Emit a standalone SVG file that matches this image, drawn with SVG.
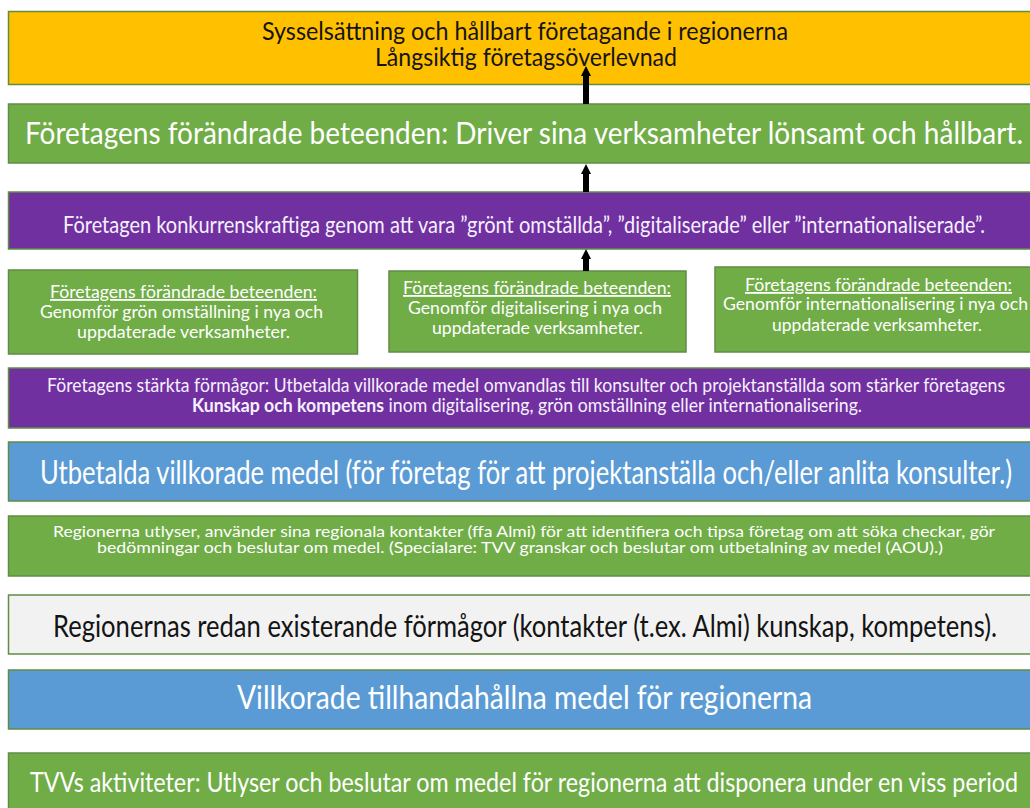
<svg xmlns="http://www.w3.org/2000/svg" width="1030" height="808" viewBox="0 0 1030 808">
<style>
.box{stroke:#628c46;stroke-width:1.5}
.y{fill:#FFC000}.g{fill:#70AD47}.p{fill:#7030A0}.b{fill:#5B9BD5}.gr{fill:#F2F2F2}
text{font-family:Lato,"Open Sans","Liberation Sans",sans-serif}
.w{fill:#ffffff}.pw{fill:#f6f0ff}.k{fill:#141414}
.conn{stroke:#000000;stroke-width:6;fill:none}
</style>
<defs>
<marker id="ah" viewBox="0 0 10 10" markerUnits="userSpaceOnUse" markerWidth="10" markerHeight="15" refX="1" refY="5" orient="auto">
<path d="M0,0 L10,5 L0,10 Z" fill="#000000"/>
</marker>
</defs>
<rect width="1030" height="808" fill="#ffffff"/>

<g id="n-sysselsattning">
<rect class="box y" x="8.5" y="11.5" width="1035" height="73"/>
<text class="k" x="262" y="40" font-size="25" textLength="526" lengthAdjust="spacingAndGlyphs">Sysselsättning och hållbart företagande i regionerna</text>
<text class="k" x="375" y="66" font-size="25" textLength="302" lengthAdjust="spacingAndGlyphs">Långsiktig företagsöverlevnad</text>
</g>

<g id="n-beteenden">
<rect class="box g" x="8.5" y="104" width="1035" height="59"/>
<text class="w" x="25" y="144" font-size="31" textLength="998" lengthAdjust="spacingAndGlyphs">Företagens förändrade beteenden: Driver sina verksamheter lönsamt och hållbart.</text>
</g>

<g id="n-konkurrenskraftiga">
<rect class="box p" x="8.5" y="192" width="1035" height="57"/>
<text class="pw" x="63" y="233" font-size="23.5" textLength="922" lengthAdjust="spacingAndGlyphs">Företagen konkurrenskraftiga  genom att vara ”grönt omställda”, ”digitaliserade” eller ”internationaliserade”.</text>
</g>

<g id="n-gron">
<rect class="box g" x="8.5" y="270" width="349" height="84"/>
<text class="w" x="50" y="298" font-size="18" textLength="267" lengthAdjust="spacingAndGlyphs" text-decoration="underline">Företagens förändrade beteenden:</text>
<text class="w" x="40" y="318" font-size="18" textLength="283" lengthAdjust="spacingAndGlyphs">Genomför grön omställning i nya och</text>
<text class="w" x="77" y="338" font-size="18" textLength="213" lengthAdjust="spacingAndGlyphs">uppdaterade verksamheter.</text>
</g>

<g id="n-digital">
<rect class="box g" x="389" y="271" width="297" height="81"/>
<text class="w" x="403" y="294" font-size="18" textLength="268" lengthAdjust="spacingAndGlyphs" text-decoration="underline">Företagens förändrade beteenden:</text>
<text class="w" x="408" y="314" font-size="18" textLength="254" lengthAdjust="spacingAndGlyphs">Genomför digitalisering i nya och</text>
<text class="w" x="432" y="334" font-size="18" textLength="211" lengthAdjust="spacingAndGlyphs">uppdaterade verksamheter.</text>
</g>

<g id="n-internationell">
<rect class="box g" x="715" y="267" width="330" height="85"/>
<text class="w" x="745" y="291" font-size="18" textLength="267" lengthAdjust="spacingAndGlyphs" text-decoration="underline">Företagens förändrade beteenden:</text>
<text class="w" x="723" y="310" font-size="18" textLength="305" lengthAdjust="spacingAndGlyphs">Genomför internationalisering i nya och</text>
<text class="w" x="772" y="331" font-size="18" textLength="210" lengthAdjust="spacingAndGlyphs">uppdaterade verksamheter.</text>
</g>

<g id="n-formagor">
<rect class="box p" x="8.5" y="368" width="1035" height="60"/>
<text class="pw" x="47" y="392" font-size="19" textLength="958" lengthAdjust="spacingAndGlyphs">Företagens  stärkta förmågor: Utbetalda villkorade medel omvandlas till konsulter och projektanställda som stärker företagens</text>
<text class="pw" x="192" y="412" font-size="19" textLength="670" lengthAdjust="spacingAndGlyphs"><tspan font-weight="bold">Kunskap och kompetens</tspan> inom digitalisering, grön omställning eller internationalisering.</text>
</g>

<g id="n-utbetalda">
<rect class="box b" x="8.5" y="442" width="1035" height="59"/>
<text class="w" x="40" y="484" font-size="33" textLength="972" lengthAdjust="spacingAndGlyphs">Utbetalda villkorade  medel  (för företag för att projektanställa  och/eller anlita konsulter.)</text>
</g>

<g id="n-regionerna-utlyser">
<rect class="box g" x="8.5" y="516" width="1035" height="60"/>
<text class="w" x="53" y="537" font-size="16" textLength="942" lengthAdjust="spacingAndGlyphs">Regionerna utlyser, använder sina regionala kontakter (ffa Almi) för att identifiera och tipsa företag om att söka checkar,  gör</text>
<text class="w" x="97" y="553" font-size="16" textLength="846" lengthAdjust="spacingAndGlyphs">bedömningar och beslutar om medel. (Specialare: TVV granskar och beslutar om utbetalning av medel (AOU).)</text>
</g>

<g id="n-existerande">
<rect class="box gr" x="8.5" y="595" width="1035" height="59"/>
<text class="k" x="53" y="637" font-size="31" textLength="944" lengthAdjust="spacingAndGlyphs">Regionernas redan existerande förmågor (kontakter (t.ex. Almi) kunskap, kompetens).</text>
</g>

<g id="n-villkorade">
<rect class="box b" x="8.5" y="670" width="1035" height="59"/>
<text class="w" x="237" y="709" font-size="33" textLength="575" lengthAdjust="spacingAndGlyphs">Villkorade tillhandahållna medel för regionerna</text>
</g>

<g id="n-tvv">
<rect class="box g" x="8.5" y="753" width="1035" height="70"/>
<text class="w" x="30" y="792" font-size="27" textLength="988" lengthAdjust="spacingAndGlyphs">TVVs aktiviteter: Utlyser och beslutar om medel för regionerna att disponera under en viss period</text>
</g>

<g id="connectors">
<line class="conn" x1="586" y1="104" x2="586" y2="75" marker-end="url(#ah)"/>
<line class="conn" x1="586" y1="192" x2="586" y2="173" marker-end="url(#ah)"/>
<line class="conn" x1="586" y1="271" x2="586" y2="258" marker-end="url(#ah)"/>
</g>
</svg>
